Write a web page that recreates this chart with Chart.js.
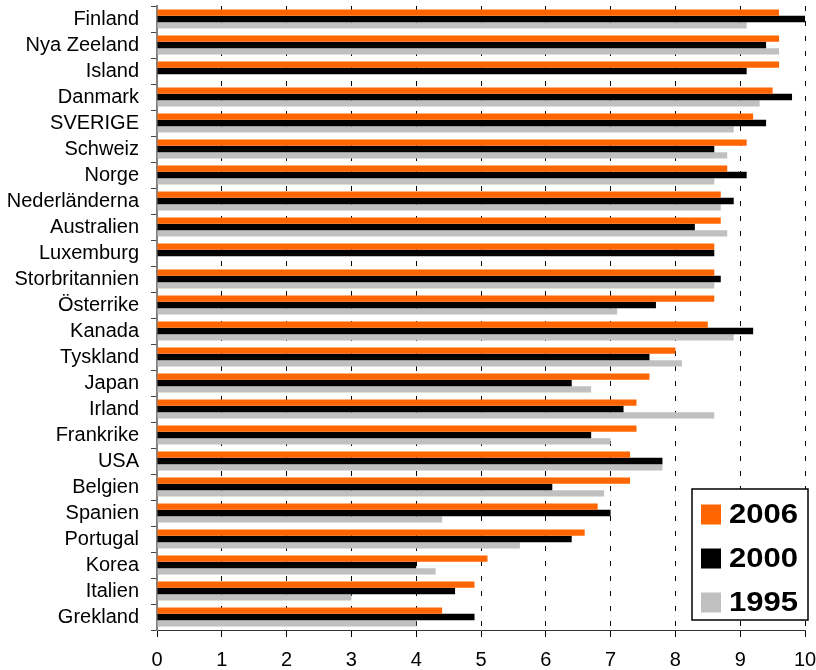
<!DOCTYPE html>
<html>
<head>
<meta charset="utf-8">
<script src="https://cdn.jsdelivr.net/npm/chart.js@4"></script>
<style>
  html, body { margin: 0; padding: 0; background: #fff; }
  #wrap { width: 816px; height: 670px; }
</style>
</head>
<body>
<div id="wrap"><canvas id="c" width="816" height="670"></canvas></div>
<script>
// Countries, top to bottom
const countries = [
  'Finland', 'Nya Zeeland', 'Island', 'Danmark', 'SVERIGE', 'Schweiz',
  'Norge', 'Nederländerna', 'Australien', 'Luxemburg', 'Storbritannien',
  'Österrike', 'Kanada', 'Tyskland', 'Japan', 'Irland', 'Frankrike', 'USA',
  'Belgien', 'Spanien', 'Portugal', 'Korea', 'Italien', 'Grekland'
];

// Index values per year (null = no value that year)
const values2006 = [9.6, 9.6, 9.6, 9.5, 9.2, 9.1, 8.8, 8.7, 8.7, 8.6, 8.6, 8.6,
                    8.5, 8.0, 7.6, 7.4, 7.4, 7.3, 7.3, 6.8, 6.6, 5.1, 4.9, 4.4];
const values2000 = [10.0, 9.4, 9.1, 9.8, 9.4, 8.6, 9.1, 8.9, 8.3, 8.6, 8.7, 7.7,
                    9.2, 7.6, 6.4, 7.2, 6.7, 7.8, 6.1, 7.0, 6.4, 4.0, 4.6, 4.9];
const values1995 = [9.1, 9.6, null, 9.3, 8.9, 8.8, 8.6, 8.7, 8.8, null, 8.6, 7.1,
                    8.9, 8.1, 6.7, 8.6, 7.0, 7.8, 6.9, 4.4, 5.6, 4.3, 3.0, 4.0];

const seriesLabels = ['2006', '2000', '1995'];
const xTickLabels = ['0', '1', '2', '3', '4', '5', '6', '7', '8', '9', '10'];

const FONT = '"Liberation Sans", Arial, sans-serif';

// Boxed legend drawn in the lower right corner of the plot
const boxLegend = {
  id: 'boxLegend',
  afterDraw(chart) {
    const { ctx, chartArea } = chart;
    const w = 116, h = 131;
    const x0 = chartArea.right + 3 - w;
    const y0 = chartArea.bottom - 10 - h;
    ctx.save();
    ctx.fillStyle = '#fff';
    ctx.fillRect(x0, y0, w, h);
    ctx.strokeStyle = '#000';
    ctx.lineWidth = 1.5;
    ctx.strokeRect(x0, y0, w, h);
    chart.data.datasets.forEach((ds, i) => {
      const cy = y0 + 25.5 + i * 44;
      ctx.fillStyle = ds.backgroundColor;
      ctx.fillRect(x0 + 9, cy - 10, 20, 20);
      ctx.save();
      ctx.translate(x0 + 37, cy + 1);
      ctx.scale(1.15, 1);
      ctx.fillStyle = '#000';
      ctx.font = 'bold 27px ' + FONT;
      ctx.textBaseline = 'middle';
      ctx.textAlign = 'left';
      ctx.fillText(ds.label, 0, 0);
      ctx.restore();
    });
    ctx.restore();
  }
};

new Chart(document.getElementById('c'), {
  type: 'bar',
  data: {
    labels: countries,
    datasets: [
      { label: seriesLabels[0], data: values2006, backgroundColor: '#FF6600' },
      { label: seriesLabels[1], data: values2000, backgroundColor: '#000000' },
      { label: seriesLabels[2], data: values1995, backgroundColor: '#C0C0C0' }
    ]
  },
  options: {
    indexAxis: 'y',
    responsive: false,
    animation: false,
    layout: { padding: { top: 6, right: 11, left: 0, bottom: 0 } },
    datasets: {
      bar: { barPercentage: 1.0, categoryPercentage: 0.73, borderWidth: 0 }
    },
    plugins: {
      legend: { display: false },
      tooltip: { enabled: false }
    },
    scales: {
      x: {
        min: 0,
        max: 10,
        afterFit(s) { s.height = 40; s.paddingLeft = 0; s.paddingRight = 0; },
        ticks: {
          stepSize: 1,
          autoSkip: false,
          maxRotation: 0,
          padding: 11,
          color: '#000',
          font: { family: FONT, size: 20 },
          callback: (v, i) => xTickLabels[i]
        },
        grid: {
          color: (c) => (c.tick && c.tick.value === 0) ? 'rgba(0,0,0,0)' : '#000',
          lineWidth: 1,
          tickColor: '#000',
          tickLength: 7,
          drawTicks: true
        },
        border: { display: true, color: '#333', width: 1, dash: [5, 10] }
      },
      y: {
        offset: true,
        afterFit(s) { s.width = 157; s.paddingTop = 0; s.paddingBottom = 0; },
        ticks: {
          autoSkip: false,
          color: '#000',
          padding: 12,
          font: { family: FONT, size: 20 }
        },
        grid: {
          offset: true,
          drawOnChartArea: false,
          drawTicks: true,
          tickLength: 6,
          tickColor: '#444'
        },
        border: { display: true, color: '#808080', width: 2 }
      }
    }
  },
  plugins: [boxLegend]
});
</script>
</body>
</html>
